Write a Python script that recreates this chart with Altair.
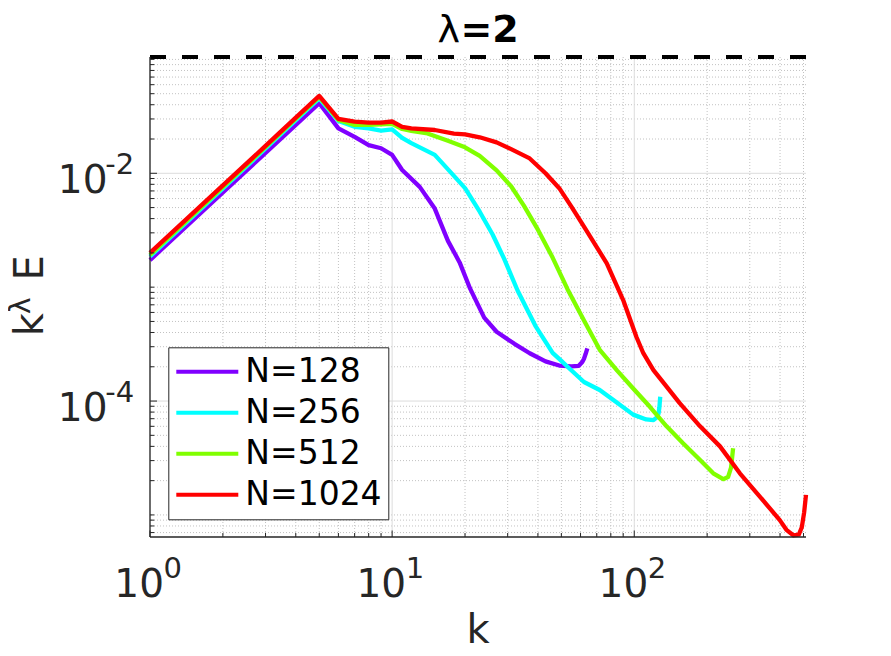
import altair as alt
import pandas as pd

FONT = "DejaVu Sans"
AXIS_COLOR = "#262626"
W, H = 656, 480
X_MIN, X_MAX = 1, 512
Y_MIN, Y_MAX = 6.4e-6, 0.105
REF_LEVEL = Y_MAX  # dashed reference line drawn at the top

series_names = ["N=128", "N=256", "N=512", "N=1024"]
series_colors = ["#8000ff", "#00ffff", "#80ff00", "#ff0000"]

k128 = [1, 2, 3, 4, 5, 6, 7, 8, 9, 10, 11, 13, 15, 17, 19, 21, 24, 27, 32, 37,
        43, 49, 55, 59, 61, 62, 63, 64]
e128 = [1.73e-3, 6.8e-3, 1.51e-2, 2.66e-2, 4.12e-2, 2.48e-2, 2.09e-2, 1.77e-2,
        1.66e-2, 1.45e-2, 1.07e-2, 7.6e-3, 4.9e-3, 2.55e-3, 1.65e-3, 9.7e-4,
        5.4e-4, 4.06e-4, 3.18e-4, 2.63e-4, 2.23e-4, 2.05e-4, 2.02e-4, 2.04e-4,
        2.2e-4, 2.35e-4, 2.6e-4, 2.9e-4]

k256 = [1, 2, 3, 4, 5, 6, 7, 8, 9, 10, 11, 12, 15, 18, 20, 23, 26, 29, 33, 39,
        46, 50, 53, 62, 72, 82, 99, 112, 120, 124, 126, 127, 128]
e256 = [1.86e-3, 7.36e-3, 1.65e-2, 2.92e-2, 4.54e-2, 2.88e-2, 2.56e-2, 2.48e-2,
        2.37e-2, 2.43e-2, 2.05e-2, 1.84e-2, 1.45e-2, 9.5e-3, 7.4e-3, 4.6e-3,
        2.9e-3, 1.78e-3, 9.3e-4, 4.6e-4, 2.65e-4, 2.25e-4, 2.0e-4, 1.47e-4,
        1.25e-4, 1.02e-4, 7.6e-5, 6.9e-5, 6.8e-5, 7.2e-5, 7.8e-5, 8.8e-5, 1.09e-4]

k512 = [1, 2, 3, 4, 5, 6, 7, 8, 9, 10, 11, 12, 14, 17, 20, 23, 27, 31, 35, 40,
        46, 53, 62, 72, 85, 99, 116, 136, 159, 187, 212, 233, 244, 251, 256]
e512 = [1.92e-3, 7.6e-3, 1.70e-2, 3.01e-2, 4.69e-2, 2.94e-2, 2.66e-2, 2.66e-2,
        2.69e-2, 2.72e-2, 2.45e-2, 2.36e-2, 2.24e-2, 1.93e-2, 1.69e-2, 1.42e-2,
        1.06e-2, 7.7e-3, 5.2e-3, 3.2e-3, 1.82e-3, 9.6e-4, 5.1e-4, 2.82e-4,
        1.85e-4, 1.29e-4, 8.9e-5, 6.0e-5, 4.26e-5, 3.04e-5, 2.32e-5, 2.06e-5,
        2.15e-5, 2.6e-5, 3.85e-5]

k1024 = [1, 2, 3, 4, 5, 6, 7, 8, 9, 10, 11, 12, 15, 18, 20, 23, 27, 31, 37, 43,
         49, 55, 62, 77, 90, 102, 109, 120, 136, 154, 187, 226, 273, 330,
         399, 425, 455, 478, 492, 503, 512]
e1024 = [2.0e-3, 7.83e-3, 1.74e-2, 3.08e-2, 4.78e-2, 3.0e-2, 2.84e-2, 2.78e-2,
         2.78e-2, 2.85e-2, 2.56e-2, 2.48e-2, 2.4e-2, 2.23e-2, 2.2e-2, 2.07e-2,
         1.87e-2, 1.63e-2, 1.35e-2, 1.0e-2, 7.4e-3, 5.1e-3, 3.4e-3, 1.62e-3,
         7.7e-4, 3.67e-4, 2.63e-4, 1.87e-4, 1.34e-4, 9.6e-5, 6.0e-5,
         4.0e-5, 2.32e-5, 1.45e-5, 9.0e-6, 7.4e-6, 6.6e-6, 6.7e-6, 7.8e-6,
         1.05e-5, 1.5e-5]

x_major = [1, 10, 100]
x_tick_exp = ["0", "1", "2"]
y_major = [1e-4, 1e-2]
y_tick_exp = ["-4", "-2"]
x_minor = [m * 10 ** e for e in range(0, 3) for m in range(2, 10) if m * 10 ** e <= X_MAX]
y_minor = [m * 10.0 ** e for e in range(-6, 0) for m in range(1, 10)
           if Y_MIN <= m * 10.0 ** e <= Y_MAX and not (m == 1 and e in (-4, -2))]

rows = []
for name, ks, es in zip(series_names, [k128, k256, k512, k1024], [e128, e256, e512, e1024]):
    for k, e in zip(ks, es):
        rows.append({"series": name, "k": k, "E": e})
df = pd.DataFrame(rows)

xs = alt.Scale(type="log", domain=[X_MIN, X_MAX], nice=False)
ys = alt.Scale(type="log", domain=[Y_MIN, Y_MAX], nice=False)


def xenc(f="v"):
    return alt.X(f"{f}:Q", scale=xs, axis=None)


def yenc(f="v"):
    return alt.Y(f"{f}:Q", scale=ys, axis=None)


def vals(v):
    return pd.DataFrame({"v": v})


minor_x_grid = alt.Chart(vals(x_minor)).mark_rule(color="#c2c2c2", strokeWidth=1, strokeDash=[1, 2]).encode(x=xenc())
minor_y_grid = alt.Chart(vals(y_minor)).mark_rule(color="#c2c2c2", strokeWidth=1, strokeDash=[1, 2]).encode(y=yenc())
major_x_grid = alt.Chart(vals(x_major)).mark_rule(color="#dcdcdc", strokeWidth=1).encode(x=xenc())
major_y_grid = alt.Chart(vals(y_major)).mark_rule(color="#dcdcdc", strokeWidth=1).encode(y=yenc())

color_enc = alt.Color(
    "series:N",
    scale=alt.Scale(domain=series_names, range=series_colors),
    legend=alt.Legend(
        title=None, orient="none", legendX=18.3, legendY=290.3,
        symbolType="stroke", symbolSize=3844, symbolStrokeWidth=4,
        clipHeight=37, rowPadding=4, labelFontSize=33, labelFont=FONT,
        labelColor="black", labelOffset=5, padding=6, strokeColor=AXIS_COLOR,
        fillColor="white", labelLimit=400,
    ),
)

line_layers = [
    alt.Chart(df).transform_filter(alt.datum.series == name)
    .mark_line(strokeWidth=4.3, clip=False, strokeJoin="round")
    .encode(x=alt.X("k:Q", scale=xs, axis=None), y=alt.Y("E:Q", scale=ys, axis=None), color=color_enc)
    for name in series_names
]

ref_line = alt.Chart(vals([REF_LEVEL])).mark_rule(color="black", strokeWidth=4, strokeDash=[16, 16]).encode(y=yenc())
left_axis = alt.Chart(vals([X_MIN])).mark_rule(color=AXIS_COLOR, strokeWidth=1.3).encode(x=xenc())
bottom_axis = alt.Chart(vals([Y_MIN])).mark_rule(color=AXIS_COLOR, strokeWidth=1.3).encode(y=yenc())

x_ticks_major = alt.Chart(vals(x_major)).mark_rule(color=AXIS_COLOR, strokeWidth=1).encode(
    x=xenc(), y=alt.value(H), y2=alt.value(H - 6.5))
x_ticks_minor = alt.Chart(vals(x_minor)).mark_rule(color=AXIS_COLOR, strokeWidth=1).encode(
    x=xenc(), y=alt.value(H), y2=alt.value(H - 4))
y_ticks_major = alt.Chart(vals(y_major)).mark_rule(color=AXIS_COLOR, strokeWidth=1).encode(
    y=yenc(), x=alt.value(0), x2=alt.value(7))
y_ticks_minor = alt.Chart(vals(y_minor)).mark_rule(color=AXIS_COLOR, strokeWidth=1).encode(
    y=yenc(), x=alt.value(0), x2=alt.value(4.3))

xlab = pd.DataFrame({"v": x_major, "base": ["10"] * len(x_major), "exp": x_tick_exp})
ylab = pd.DataFrame({"v": y_major, "base": ["10"] * len(y_major), "exp": y_tick_exp})

x_base = alt.Chart(xlab).mark_text(font=FONT, fontSize=39, align="right", baseline="alphabetic",
                                   dx=14, color=AXIS_COLOR).encode(x=xenc(), y=alt.value(H + 59.7), text="base:N")
x_exp = alt.Chart(xlab).mark_text(font=FONT, fontSize=29, align="left", baseline="alphabetic",
                                  dx=13.5, color=AXIS_COLOR).encode(x=xenc(), y=alt.value(H + 41.3), text="exp:N")
y_base = alt.Chart(ylab).mark_text(font=FONT, fontSize=39, align="right", baseline="alphabetic",
                                   dy=19.5, color=AXIS_COLOR).encode(y=yenc(), x=alt.value(-42.5), text="base:N")
y_exp = alt.Chart(ylab).mark_text(font=FONT, fontSize=29, align="left", baseline="alphabetic",
                                  dy=1.2, color=AXIS_COLOR).encode(y=yenc(), x=alt.value(-44.8), text="exp:N")


def label(text, x, y, size, weight="normal", align="left", angle=0, color="black"):
    return alt.Chart(pd.DataFrame({"t": [text]})).mark_text(
        font=FONT, fontSize=size, fontWeight=weight, align=align, baseline="alphabetic",
        angle=angle, color=color,
    ).encode(x=alt.value(x), y=alt.value(y), text="t:N")


title_lam = label("λ", 287.5, -15.3, 38)
title_rest = label("=2", 310.5, -15.3, 38, weight="bold")
x_title = label("k", 328, 586, 40, align="center", color=AXIS_COLOR)
y_title_k = label("k", -106.7, 279.2, 40, angle=270, color=AXIS_COLOR)
y_title_lam = label("λ", -120, 257, 28, angle=270, color=AXIS_COLOR)
y_title_e = label("E", -106.7, 223.6, 40, angle=270, color=AXIS_COLOR)

chart = alt.layer(
    minor_x_grid, minor_y_grid, major_x_grid, major_y_grid,
    *line_layers,
    ref_line, left_axis, bottom_axis,
    x_ticks_major, x_ticks_minor, y_ticks_major, y_ticks_minor,
    x_base, x_exp, y_base, y_exp,
    title_lam, title_rest, x_title, y_title_k, y_title_lam, y_title_e,
).properties(
    width=W, height=H,
    padding={"left": 142, "top": 49, "right": 70, "bottom": 110},
    autosize=alt.AutoSizeParams(type="none"),
    background="white",
).configure_view(stroke=None)

chart.save("out.html", embed_options={"renderer": "svg", "actions": False})
